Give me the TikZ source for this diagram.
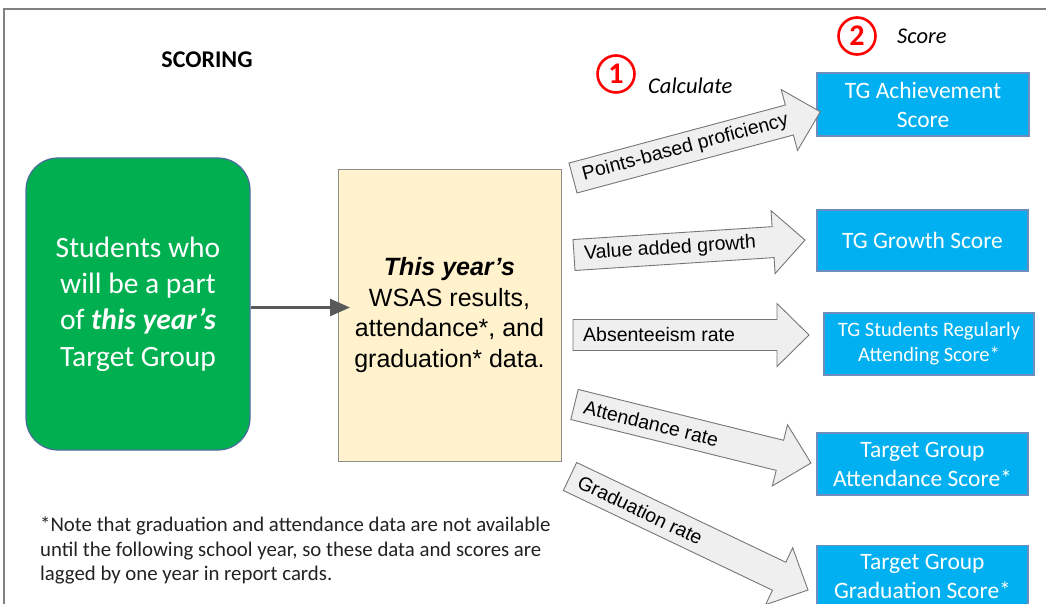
\documentclass[tikz,border=0pt]{standalone}
\usepackage{fontspec}
\setmainfont{Carlito}
\newfontfamily\arialf{Liberation Sans}
\newfontfamily\calf{Carlito}
\usetikzlibrary{arrows.meta}
\definecolor{tggreen}{HTML}{00B050}
\definecolor{greenbord}{HTML}{4A6D9C}
\definecolor{tgblue}{HTML}{00B0F0}
\definecolor{bluebord}{HTML}{6C8EBF}
\definecolor{tgyellow}{HTML}{FFF2CC}
\definecolor{yellowbord}{HTML}{8C8C8C}
\definecolor{arrowfill}{HTML}{EFEFEF}
\definecolor{arrowline}{HTML}{767676}
\definecolor{framegray}{HTML}{808080}
\definecolor{connect}{HTML}{595959}
\definecolor{numred}{HTML}{FF0000}
\definecolor{notegray}{HTML}{222222}

\tikzset{
  bluebox/.style={draw=bluebord, line width=1.3pt, fill=tgblue, text=white, align=center,
    inner sep=0pt, font=\calf\fontsize{23.5}{29}\selectfont},
  barrow/.style={draw=arrowline, line width=0.9pt, fill=arrowfill, line join=miter},
  barrowtext/.style={anchor=west, inner sep=0pt, text=black, font=\arialf\fontsize{19.5}{22}\selectfont},
  numcircle/.style={circle, draw=numred, line width=2.6pt, minimum size=37pt, inner sep=0pt,
    text=numred, font=\calf\bfseries\fontsize{30}{30}\selectfont},
  steplabel/.style={anchor=west, inner sep=0pt, font=\calf\itshape\fontsize{22.5}{26}\selectfont},
  conn/.style={draw=connect, line width=2.6pt, -{Triangle[length=20pt,width=17pt]}},
}

\newcommand\blockarrow[6]{% x, y, angle, length, text, name
  \begin{scope}[shift={(#1,#2)}, rotate=#3]
    \draw[barrow] (0,-15.5) -- (#4-32,-15.5) -- (#4-32,-31.5) -- (#4,0)
      -- (#4-32,31.5) -- (#4-32,15.5) -- (0,15.5) -- cycle;
    \node[barrowtext, transform shape] (#6) at (10,0) {#5};
  \end{scope}}

\begin{document}
\begin{tikzpicture}[x=1pt, y=-1pt]
  \useasboundingbox (0,0) rectangle (1046,604);
  \clip (0,0) rectangle (1046,604);

  % frame
  \draw[framegray, line width=2.5pt] (4,610) -- (4,9) -- (1050,9);

  % title
  \node[inner sep=0pt, font=\calf\bfseries\fontsize{24}{28}\selectfont] (scoring) at (207,60) {SCORING};

  % left boxes
  \node[draw=greenbord, line width=1.2pt, fill=tggreen, rounded corners=32pt,
        minimum width=224pt, minimum height=292pt, text=white, align=center, inner sep=0pt,
        font=\calf\fontsize{29.5}{36.3}\selectfont] (students) at (138,304)
        {Students who\\will be a part\\of \textbf{\textit{this year’s}}\\Target Group};
  \node[draw=yellowbord, line width=0.9pt, fill=tgyellow,
        minimum width=223pt, minimum height=292pt, align=center, inner sep=0pt,
        font=\arialf\fontsize{25}{30.5}\selectfont] (data) at (449.5,315)
        {\textbf{\textit{This year’s}}\\WSAS results,\\attendance*, and\\graduation* data.};

  \coordinate (cy) at (0,307.5);
  \coordinate (tipend) at (350,307.5);
  \draw[conn] (students.east |- cy) -- (tipend);

  % step markers
  \node[numcircle] (one) at (616,74) {1};
  \node[steplabel] (calc) at (648,86) {Calculate};
  \node[numcircle] (two) at (857,36) {2};
  \node[steplabel] (score) at (897,36) {Score};

  % score boxes
  \node[bluebox, minimum width=212pt, minimum height=63pt] (ach) at (923,104.5) {TG Achievement\\Score};
  \node[bluebox, minimum width=211pt, minimum height=61pt] (growth) at (922.5,240.5) {TG Growth Score};
  \node[bluebox, minimum width=210pt, minimum height=62pt, font=\calf\fontsize{20.5}{25}\selectfont]
        (regular) at (929,344) {TG Students Regularly\\Attending Score*};
  \node[bluebox, minimum width=211pt, minimum height=62pt] (attend) at (922.5,464) {Target Group\\Attendance Score*};
  \node[bluebox, minimum width=211pt, minimum height=62pt] (grad) at (922.5,576.5) {Target Group\\Graduation Score*};

  % block arrows
  \blockarrow{573}{178}{15}{256}{Points-based proficiency}{a1}
  \blockarrow{574}{255}{3.7}{231.5}{Value added growth}{a2}
  \blockarrow{573}{335}{0}{236}{Absenteeism rate}{a3}
  \blockarrow{574.5}{404.5}{-13.9}{243.6}{Attendance rate}{a4}
  \blockarrow{570}{476.5}{-25.5}{263.7}{Graduation rate}{a5}

  % note
  \node[anchor=north west, inner sep=0pt, align=left, text=notegray,
        font=\calf\fontsize{20.8}{24.5}\selectfont] (note) at (40,517)
        {*Note that graduation and attendance data are not available\\
         until the following school year, so these data and scores are\\
         lagged by one year in report cards.};
\end{tikzpicture}
\end{document}
